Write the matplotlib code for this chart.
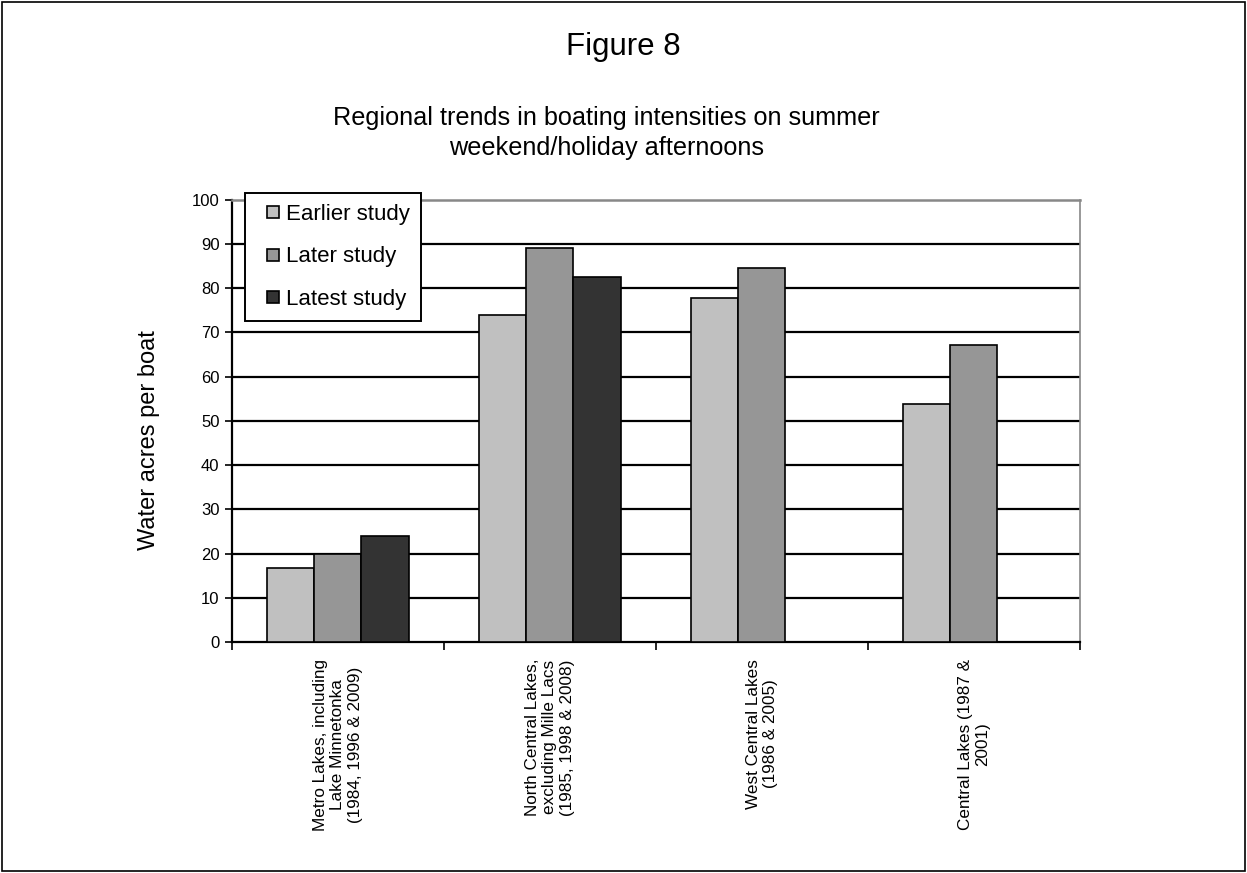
import matplotlib.pyplot as plt
import numpy as np
from matplotlib.patches import Rectangle
from matplotlib.legend_handler import HandlerPatch

plt.rcParams['font.family'] = ['Liberation Sans', 'DejaVu Sans']

categories = ['Metro Lakes, including\nLake Minnetonka\n(1984, 1996 & 2009)',
              'North Central Lakes,\nexcluding Mille Lacs\n(1985, 1998 & 2008)',
              'West Central Lakes\n(1986 & 2005)',
              'Central Lakes (1987 &\n2001)']
earlier = [16.7, 74.0, 77.8, 53.9]
later = [20.0, 89.1, 84.6, 67.2]
latest = [24.0, 82.6, np.nan, np.nan]
series_names = ['Earlier study', 'Later study', 'Latest study']
series_colors = ['#c0c0c0', '#969696', '#333333']


def square_patch(legend, orig_handle, xdescent, ydescent, width, height, fontsize):
    # small square, pushed to the right end of the handle box
    s = 0.55 * fontsize
    return Rectangle((-xdescent + width - s, -ydescent + (height - s) / 2), s, s)


fig = plt.figure(figsize=(12.47, 8.73), dpi=100)
ax = fig.add_axes([0.186, 0.2646, 0.680, 0.5065])

x = np.arange(len(categories))
w = 0.222
for i, (vals, name, col) in enumerate(zip([earlier, later, latest], series_names, series_colors)):
    ax.bar(x + (i - 1) * w, vals, width=w, color=col, edgecolor='black', linewidth=1.2,
           label=name, zorder=3)

ax.set_xlim(-0.5, 3.5)
ax.set_ylim(0, 100)
ax.set_yticks(range(0, 101, 10))
ax.set_xticks(np.arange(-0.5, 4.0, 1.0))
ax.set_xticklabels([])
ax.set_xticks(x, minor=True)
ax.set_xticklabels(categories, minor=True, rotation=90, fontsize=12.3, ha='center', va='top',
                   multialignment='center', linespacing=1.2)
ax.tick_params(axis='x', which='minor', length=0, pad=12)
ax.tick_params(axis='x', which='major', length=6, direction='out', width=1.2)
ax.tick_params(axis='y', length=5, direction='out', width=1.2, labelsize=12, pad=4)

for v in range(10, 100, 10):
    ax.axhline(v, color='black', linewidth=1.6, zorder=1)

ax.spines['left'].set_linewidth(1.6)
ax.spines['bottom'].set_linewidth(1.6)
ax.spines['top'].set_color('#888888')
ax.spines['right'].set_color('#888888')
ax.spines['top'].set_linewidth(1.8)
ax.spines['right'].set_linewidth(1.2)

ax.set_ylabel('Water acres per boat', fontsize=17)
ax.yaxis.set_label_coords(-0.085, 0.457)

handles = [c.patches[0] for c in ax.containers]
leg = ax.legend(handles, series_names, loc='upper left', bbox_to_anchor=(0.0153, 1.016),
                borderaxespad=0, fontsize=16, frameon=True, fancybox=False, edgecolor='black',
                handlelength=1.05, handleheight=0.7, handletextpad=0.3, labelspacing=0.97,
                borderpad=0.5, framealpha=1,
                handler_map={Rectangle: HandlerPatch(patch_func=square_patch)})
leg.get_frame().set_linewidth(1.4)
leg.set_zorder(5)

fig.text(0.5, 0.946, 'Figure 8', ha='center', va='center', fontsize=22.5)
fig.text(0.486, 0.8477, 'Regional trends in boating intensities on summer\nweekend/holiday afternoons',
         ha='center', va='center', fontsize=18.2, linespacing=1.27)

fig.patches.append(Rectangle((0.002, 0.002), 0.996, 0.996, transform=fig.transFigure,
                             fill=False, edgecolor='black', linewidth=1.2))

plt.savefig('out.png', dpi=100)
